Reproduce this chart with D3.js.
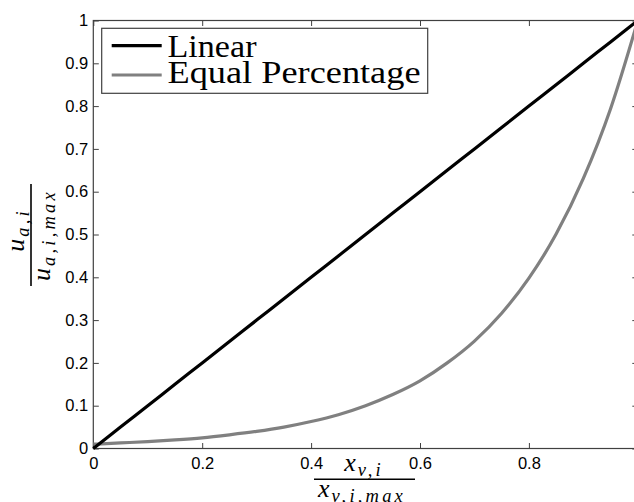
<!DOCTYPE html>
<html>
<head>
<meta charset="utf-8">
<script src="https://cdn.jsdelivr.net/npm/d3@7"></script>
<style>
  html, body { margin: 0; padding: 0; background: #fff; }
  svg { display: block; }
  .tick text { font-family: "Liberation Sans", Arial, sans-serif; font-size: 16.5px; fill: #000; }
</style>
</head>
<body>
<svg id="chart" width="634" height="502"></svg>
<script>
// Valve opening (fraction of full travel)
const opening = [0, 0.05, 0.10, 0.15, 0.20, 0.25, 0.30, 0.35, 0.40, 0.45, 0.50,
                 0.55, 0.60, 0.65, 0.70, 0.75, 0.80, 0.85, 0.90, 0.95, 1.00];
// Linear characteristic
const linearFlow = [0, 0.05, 0.10, 0.15, 0.20, 0.25, 0.30, 0.35, 0.40, 0.45, 0.50,
                    0.55, 0.60, 0.65, 0.70, 0.75, 0.80, 0.85, 0.90, 0.95, 1.00];
// Equal-percentage characteristic
const equalPctFlow = [0.010, 0.013, 0.016, 0.020, 0.025, 0.032, 0.040, 0.050, 0.063, 0.079, 0.100,
                      0.126, 0.158, 0.200, 0.251, 0.316, 0.398, 0.501, 0.631, 0.794, 1.000];

const seriesNames = ["Linear", "Equal Percentage"];
const seriesColors = ["#000000", "#808080"];

// the tick at 1 sits on the clipped right edge, so it gets no label
const xTicks = [0, 0.2, 0.4, 0.6, 0.8];
const xTickLabels = ["0", "0.2", "0.4", "0.6", "0.8"];
const yTicks = [0, 0.1, 0.2, 0.3, 0.4, 0.5, 0.6, 0.7, 0.8, 0.9, 1];
const yTickLabels = ["0", "0.1", "0.2", "0.3", "0.4", "0.5", "0.6", "0.7", "0.8", "0.9", "1"];

const svg = d3.select("#chart");
const plotLeft = 93.3, plotRight = 637.8, plotTop = 20.5, plotBottom = 448.5;
const x = d3.scaleLinear().domain([0, 1]).range([plotLeft, plotRight]);
const y = d3.scaleLinear().domain([0, 1]).range([plotBottom, plotTop]);
const axisColor = "#404040";
const tickLen = 5.5;

// Axes with inward ticks on all four sides
const gx = svg.append("g").attr("transform", `translate(0,${plotBottom})`)
  .call(d3.axisBottom(x).tickValues(xTicks).tickSizeInner(-tickLen).tickSizeOuter(0)
    .tickPadding(9).tickFormat((d, i) => xTickLabels[i]));
const gy = svg.append("g").attr("transform", `translate(${plotLeft},0)`)
  .call(d3.axisLeft(y).tickValues(yTicks).tickSizeInner(-tickLen).tickSizeOuter(0)
    .tickPadding(5).tickFormat((d, i) => yTickLabels[i]));
const gt = svg.append("g").attr("transform", `translate(0,${plotTop})`)
  .call(d3.axisTop(x).tickValues(xTicks).tickSizeInner(-tickLen).tickSizeOuter(0).tickFormat(""));
const gr = svg.append("g").attr("transform", `translate(${plotRight},0)`)
  .call(d3.axisRight(y).tickValues(yTicks).tickSizeInner(-tickLen).tickSizeOuter(0).tickFormat(""));
[gx, gy, gt, gr].forEach(g => {
  g.select(".domain").remove();
  g.selectAll(".tick line").attr("stroke", axisColor).attr("stroke-width", 1);
});

svg.append("rect")
  .attr("x", plotLeft).attr("y", plotTop)
  .attr("width", plotRight - plotLeft).attr("height", plotBottom - plotTop)
  .attr("fill", "none").attr("stroke", axisColor).attr("stroke-width", 1.2);

// Characteristic curves
const line = d3.line()
  .x((d, i) => x(opening[i]))
  .y(d => y(d))
  .curve(d3.curveMonotoneX);

[equalPctFlow, linearFlow].forEach((vals, k) => {
  svg.append("path")
    .datum(vals)
    .attr("d", line)
    .attr("fill", "none")
    .attr("stroke", k === 0 ? seriesColors[1] : seriesColors[0])
    .attr("stroke-width", 3.2)
    .attr("stroke-linejoin", "round");
});

// Legend
const legend = svg.append("g");
legend.append("rect")
  .attr("x", 101.7).attr("y", 28.3).attr("width", 326).attr("height", 65)
  .attr("fill", "#fff").attr("stroke", axisColor).attr("stroke-width", 1.2);
const legendRows = [
  { lineY: 45.7, textY: 56.7, len: 89 },
  { lineY: 75, textY: 83.3, len: 253 }
];
legendRows.forEach((r, i) => {
  legend.append("line")
    .attr("x1", 111.7).attr("x2", 161.7).attr("y1", r.lineY).attr("y2", r.lineY)
    .attr("stroke", seriesColors[i]).attr("stroke-width", 3.2);
  legend.append("text")
    .attr("x", 167.5).attr("y", r.textY)
    .attr("font-family", "'Liberation Serif', 'Times New Roman', serif")
    .attr("font-size", 32)
    .attr("textLength", r.len).attr("lengthAdjust", "spacingAndGlyphs")
    .text(seriesNames[i]);
});

// Axis labels drawn as fractions
const mathFont = "'Liberation Serif', 'Times New Roman', serif";
function mathText(g, base, sub, opts) {
  const t = g.append("text")
    .attr("x", opts.x).attr("y", opts.y)
    .attr("text-anchor", "middle")
    .attr("font-family", mathFont)
    .attr("font-style", "italic");
  t.append("tspan").attr("font-size", 26).text(base);
  t.append("tspan").attr("font-size", 18.5).attr("dy", 5).attr("dx", 2)
    .attr("letter-spacing", 3.2).text(sub);
  return t;
}

// x label
const xl = svg.append("g");
mathText(xl, "x", "v,i", { x: 364, y: 471 });
xl.append("line").attr("x1", 314).attr("x2", 415).attr("y1", 479.3).attr("y2", 479.3)
  .attr("stroke", "#000").attr("stroke-width", 1.6);
mathText(xl, "x", "v,i,max", { x: 362, y: 497 });

// y label
const yl = svg.append("g").attr("transform", "translate(31,235) rotate(-90)");
mathText(yl, "u", "a,i", { x: 5, y: -7.5 });
yl.append("line").attr("x1", -51).attr("x2", 51).attr("y1", 0).attr("y2", 0)
  .attr("stroke", "#000").attr("stroke-width", 1.6);
mathText(yl, "u", "a,i,max", { x: 0, y: 19 });
</script>
</body>
</html>
